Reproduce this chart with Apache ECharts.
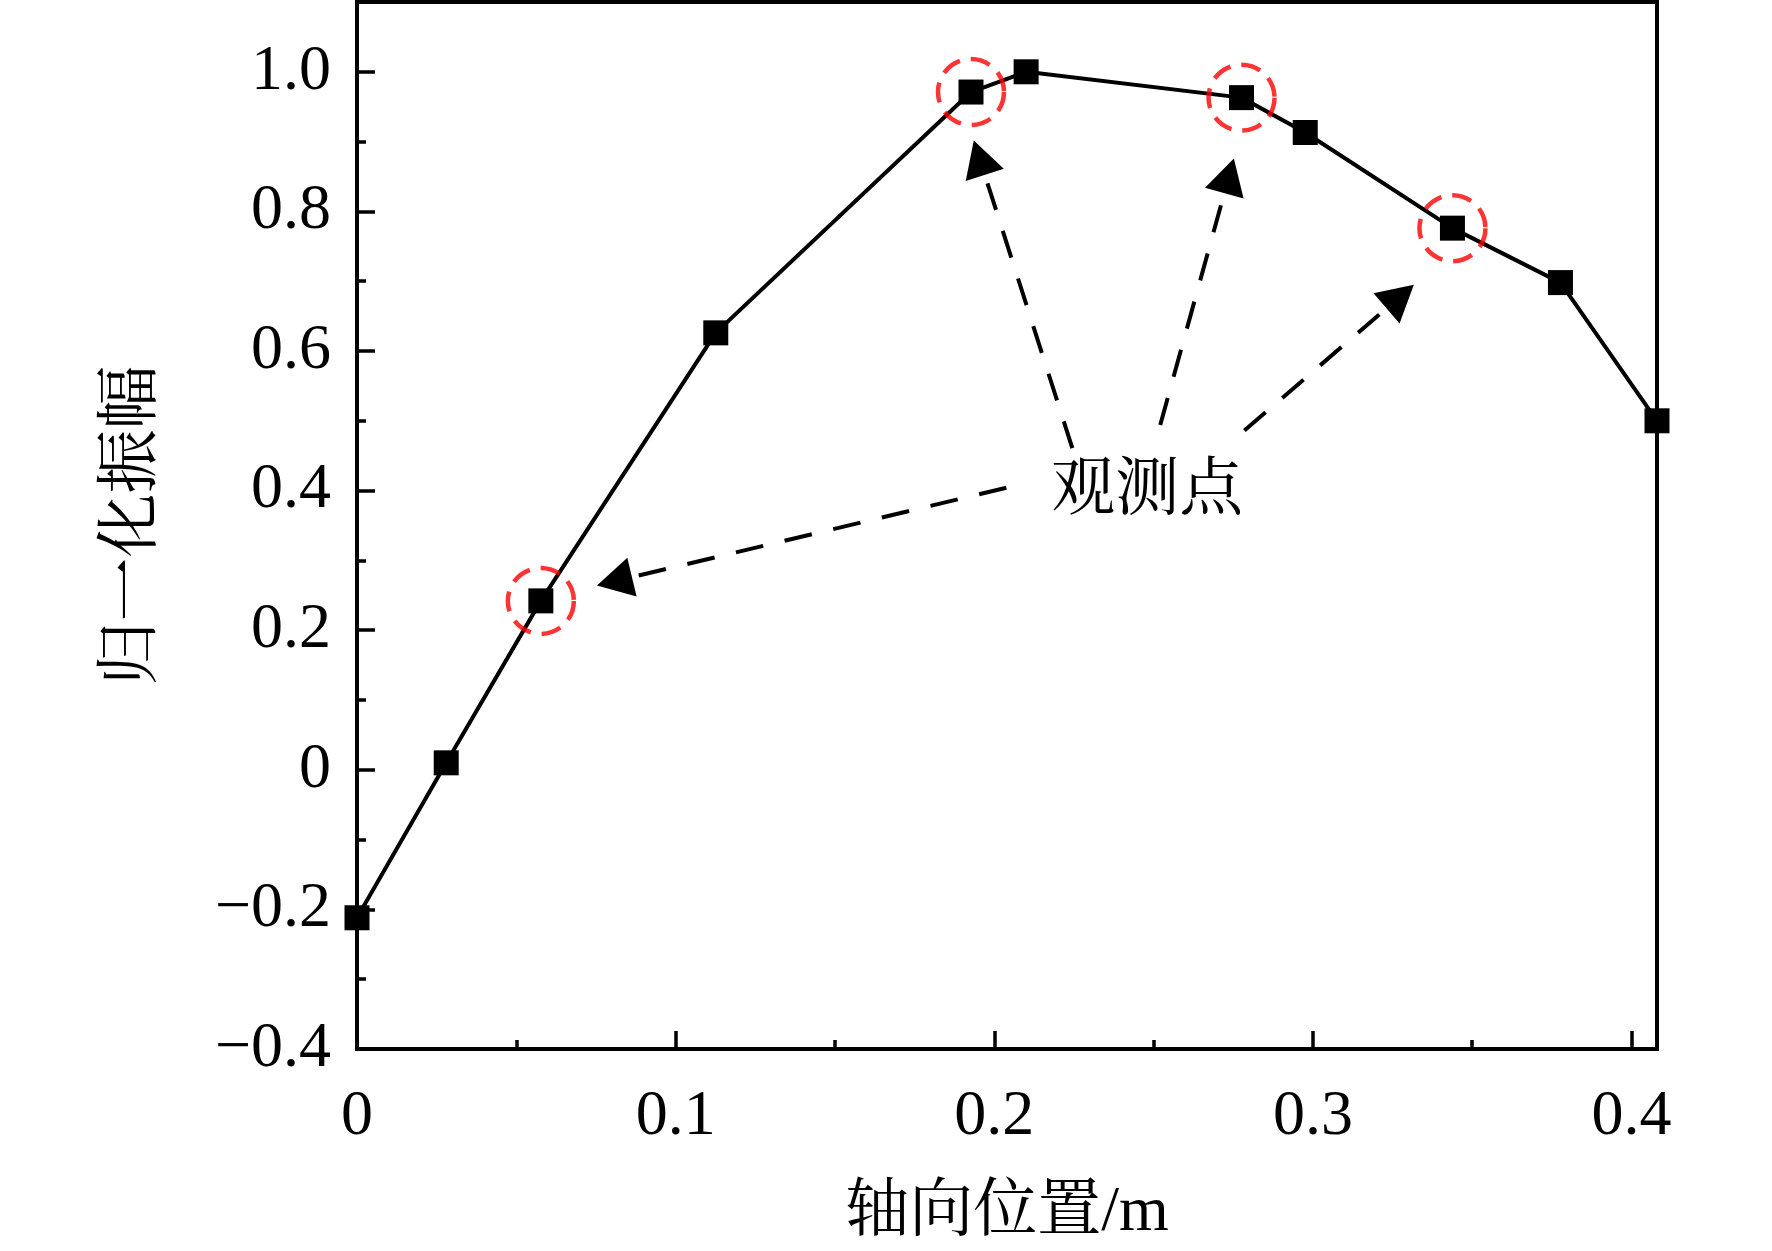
<!DOCTYPE html>
<html>
<head>
    <meta charset="utf-8">
    <title>归一化振幅</title>
    <script src="https://cdn.jsdelivr.net/npm/echarts@6/dist/echarts.min.js"></script>
    <style>
        html, body { margin: 0; padding: 0; background: #fff; }
        #main { width: 1772px; height: 1251px; }
    </style>
</head>
<body>
<div id="main"></div>
<script type="text/javascript">
    // 轴向位置 (m) 与归一化振幅
    var xPos = [0, 0.028, 0.0577, 0.1126, 0.1927, 0.2100, 0.2776, 0.2976, 0.3438, 0.3777, 0.408];
    var amp = [-0.212, 0.010, 0.242, 0.626, 0.971, 1.000, 0.963, 0.913, 0.776, 0.698, 0.500];
    // 观测点在数据中的序号
    var observeIdx = [2, 4, 6, 8];

    // 刻度
    var xTicks = [0, 0.1, 0.2, 0.3, 0.4];
    var xMinorTicks = [0.05, 0.15, 0.25, 0.35];
    var yTicks = [-0.4, -0.2, 0, 0.2, 0.4, 0.6, 0.8, 1.0];
    var yMinorTicks = [-0.3, -0.1, 0.1, 0.3, 0.5, 0.7, 0.9];

    // 标注文字及箭头 (数据坐标)
    var noteText = '观测点';
    var notePos = [0.248, 0.398];
    var arrowFrom = [[0.2038, 0.404], [0.2245, 0.461], [0.2521, 0.494], [0.2785, 0.486]];
    var arrowTo = [[0.0808, 0.270], [0.1953, 0.877], [0.2737, 0.851], [0.3274, 0.678]];

    var FONT = "'Liberation Serif', 'Noto Serif CJK SC', 'Noto Sans CJK SC', serif";

    var myChart = echarts.init(document.getElementById('main'));

    function fmt(v) {
        if (Math.abs(v) < 1e-9) return '0';
        return (v < 0 ? '\u2212' : '') + Math.abs(v).toFixed(1);
    }

    var xCommon = { type: 'value', min: 0, max: 0.408, gridIndex: 0, position: 'bottom', splitLine: { show: false } };
    var yCommon = { type: 'value', min: -0.4, max: 1.1, gridIndex: 0, position: 'left', splitLine: { show: false } };

    myChart.setOption({
        animation: false,
        backgroundColor: '#fff',
        grid: {
            left: 357, right: 115, top: 2, bottom: 202,
            show: true, borderColor: '#000', borderWidth: 4,
            outerBoundsMode: 'none'
        },
        xAxis: [
            Object.assign({}, xCommon, {
                name: '轴向位置/m',
                nameLocation: 'middle',
                nameGap: 132,
                nameTextStyle: { fontFamily: FONT, fontSize: 64, color: '#000' },
                axisLine: { onZero: false, lineStyle: { color: '#000', width: 4 } },
                axisTick: { inside: true, length: 18, lineStyle: { color: '#000', width: 3.5 }, customValues: xTicks },
                axisLabel: { margin: 36, fontFamily: FONT, fontSize: 64, color: '#000', customValues: xTicks, formatter: fmt }
            }),
            Object.assign({}, xCommon, {
                axisLine: { show: false, onZero: false },
                axisTick: { inside: true, length: 9, lineStyle: { color: '#000', width: 3.5 }, customValues: xMinorTicks },
                axisLabel: { show: false }
            })
        ],
        yAxis: [
            Object.assign({}, yCommon, {
                name: '归一化振幅',
                nameLocation: 'middle',
                nameGap: 192,
                nameRotate: 90,
                nameTextStyle: { fontFamily: FONT, fontSize: 64, color: '#000' },
                axisLine: { onZero: false, lineStyle: { color: '#000', width: 4 } },
                axisTick: { inside: true, length: 18, lineStyle: { color: '#000', width: 3.5 }, customValues: yTicks },
                axisLabel: { margin: 26, fontFamily: FONT, fontSize: 64, color: '#000', customValues: yTicks, formatter: fmt }
            }),
            Object.assign({}, yCommon, {
                axisLine: { show: false, onZero: false },
                axisTick: { inside: true, length: 9, lineStyle: { color: '#000', width: 3.5 }, customValues: yMinorTicks },
                axisLabel: { show: false }
            })
        ],
        series: [
            {
                name: '归一化振幅',
                type: 'line',
                xAxisIndex: 0,
                yAxisIndex: 0,
                data: xPos.map(function (x, i) { return [x, amp[i]]; }),
                symbol: 'rect',
                symbolSize: 25,
                itemStyle: { color: '#000' },
                lineStyle: { color: '#000', width: 4 },
                clip: false,
                z: 3
            },
            {
                name: '观测点',
                type: 'scatter',
                xAxisIndex: 0,
                yAxisIndex: 0,
                data: observeIdx.map(function (i) { return [xPos[i], amp[i]]; }),
                symbol: 'circle',
                symbolSize: 66,
                itemStyle: {
                    color: 'rgba(0,0,0,0)',
                    borderColor: '#ff0000',
                    borderWidth: 4.5,
                    borderType: [20, 11]
                },
                silent: true,
                z: 4,
                markLine: {
                    silent: true,
                    animation: false,
                    symbol: ['none', 'triangle'],
                    label: { show: false },
                    lineStyle: { color: '#000', width: 4, type: [28, 22] },
                    data: arrowFrom.map(function (f, i) {
                        return [
                            { coord: f, symbol: 'none' },
                            { coord: arrowTo[i], symbol: 'triangle', symbolSize: [40, 36] }
                        ];
                    })
                },
                markPoint: {
                    silent: true,
                    animation: false,
                    data: [{
                        coord: notePos,
                        symbol: 'rect',
                        symbolSize: 1,
                        itemStyle: { color: 'rgba(0,0,0,0)' },
                        label: {
                            show: true,
                            position: 'inside',
                            formatter: noteText,
                            fontFamily: FONT,
                            fontSize: 64,
                            color: '#000'
                        }
                    }]
                }
            }
        ]
    });
</script>
</body>
</html>
